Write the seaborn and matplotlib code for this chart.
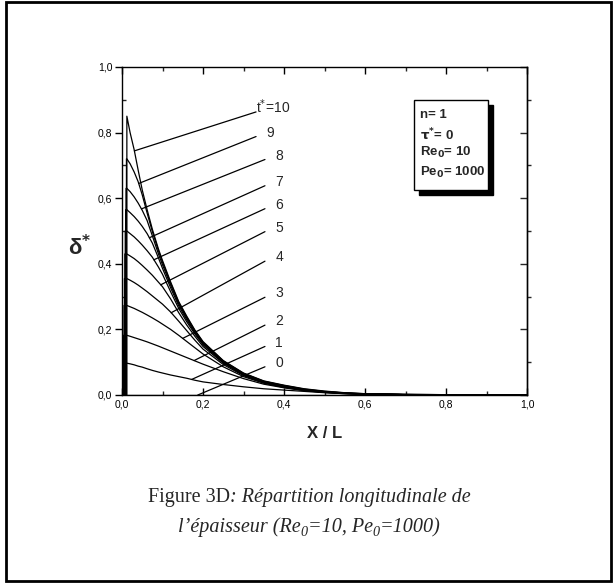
import numpy as np
import matplotlib
matplotlib.use("Agg")
import matplotlib.pyplot as plt
import seaborn as sns
from matplotlib.ticker import MultipleLocator, FuncFormatter
from matplotlib.patches import Rectangle

# ---------------- data ----------------
times = [1, 2, 3, 4, 5, 6, 7, 8, 9, 10]
x_grid = [0.012, 0.02, 0.03, 0.04, 0.05, 0.062, 0.075, 0.09, 0.10, 0.12, 0.14, 0.16,
          0.18, 0.20, 0.25, 0.30, 0.35, 0.40, 0.45, 0.50, 0.55, 0.60, 0.70, 0.80, 1.00]
delta_t1 = [0.097, 0.095, 0.092, 0.088, 0.085, 0.080, 0.075, 0.070, 0.067, 0.061, 0.056, 0.051,
            0.045, 0.040, 0.032, 0.025, 0.019, 0.015, 0.011, 0.007, 0.004, 0.002, 0.001, 0.000, 0.000]
delta_t2 = [0.182, 0.179, 0.175, 0.171, 0.167, 0.162, 0.156, 0.149, 0.144, 0.134, 0.124, 0.114,
            0.104, 0.094, 0.071, 0.050, 0.033, 0.022, 0.013, 0.008, 0.004, 0.002, 0.001, 0.000, 0.000]
delta_t3 = [0.273, 0.269, 0.264, 0.258, 0.252, 0.244, 0.235, 0.224, 0.216, 0.200, 0.182, 0.163,
            0.144, 0.125, 0.086, 0.056, 0.036, 0.023, 0.014, 0.008, 0.005, 0.003, 0.001, 0.000, 0.000]
delta_t4 = [0.355, 0.350, 0.343, 0.335, 0.326, 0.315, 0.302, 0.287, 0.277, 0.253, 0.225, 0.196,
            0.167, 0.140, 0.093, 0.059, 0.037, 0.024, 0.015, 0.009, 0.005, 0.003, 0.001, 0.000, 0.000]
delta_t5 = [0.430, 0.424, 0.416, 0.406, 0.395, 0.381, 0.365, 0.344, 0.330, 0.293, 0.251, 0.213,
            0.179, 0.148, 0.097, 0.061, 0.038, 0.025, 0.015, 0.009, 0.005, 0.003, 0.001, 0.000, 0.000]
delta_t6 = [0.500, 0.492, 0.482, 0.470, 0.457, 0.440, 0.420, 0.390, 0.368, 0.315, 0.264, 0.223,
            0.186, 0.153, 0.099, 0.062, 0.039, 0.026, 0.016, 0.009, 0.005, 0.003, 0.001, 0.000, 0.000]
delta_t7 = [0.565, 0.556, 0.544, 0.530, 0.514, 0.492, 0.463, 0.418, 0.386, 0.327, 0.272, 0.229,
            0.190, 0.156, 0.100, 0.063, 0.040, 0.027, 0.016, 0.010, 0.006, 0.003, 0.001, 0.000, 0.000]
delta_t8 = [0.630, 0.620, 0.604, 0.585, 0.563, 0.532, 0.485, 0.430, 0.397, 0.335, 0.278, 0.234,
            0.194, 0.159, 0.102, 0.065, 0.041, 0.028, 0.017, 0.010, 0.006, 0.0035, 0.0015, 0.000, 0.000]
delta_t9 = [0.720, 0.705, 0.680, 0.650, 0.610, 0.555, 0.498, 0.440, 0.405, 0.341, 0.282, 0.237,
            0.196, 0.161, 0.104, 0.066, 0.042, 0.029, 0.018, 0.011, 0.0065, 0.004, 0.002, 0.001, 0.000]
delta_t10 = [0.850, 0.800, 0.748, 0.685, 0.625, 0.565, 0.505, 0.445, 0.410, 0.345, 0.285, 0.240,
             0.198, 0.163, 0.105, 0.067, 0.043, 0.030, 0.019, 0.012, 0.007, 0.004, 0.002, 0.001, 0.000]
curves = [delta_t1, delta_t2, delta_t3, delta_t4, delta_t5,
          delta_t6, delta_t7, delta_t8, delta_t9, delta_t10]

# curve labels (t* = 0 .. 10)
label_names = ["0", "1", "2", "3", "4", "5", "6", "7", "8", "9", "10"]
label_y = [0.098, 0.16, 0.225, 0.31, 0.42, 0.51, 0.58, 0.65, 0.73, 0.80, 0.875]

x_ticks = [0.0, 0.2, 0.4, 0.6, 0.8, 1.0]
y_ticks = [0.0, 0.2, 0.4, 0.6, 0.8, 1.0]

# ---------------- figure ----------------
sns.set_theme(style="white")
plt.rcParams["font.family"] = ["Liberation Sans", "DejaVu Sans"]

W, H = 613, 583
fig = plt.figure(figsize=(W / 100, H / 100), dpi=100)
fig.patch.set_facecolor("white")

# outer frame of the scanned page
fig.patches.append(Rectangle((6 / W, 2 / H), 605 / W, 579 / H, transform=fig.transFigure,
                             fill=False, edgecolor="black", linewidth=2.0))

AX_W, AX_H = 405, 328
ax = fig.add_axes([122 / W, 1 - 395 / H, AX_W / W, AX_H / H])
ax.set_facecolor("white")

starts = np.linspace(0.003, 0.012, len(curves))
for i, (t, vals) in enumerate(zip(times, curves)):
    xs = [starts[i], starts[i]] + x_grid
    ys = [0.0, vals[0]] + vals
    sns.lineplot(x=xs, y=ys, ax=ax, color="black", linewidth=0.9, sort=False,
                 estimator=None)

# t*=0 curve lies on the axis
sns.lineplot(x=[0.0, 1.0], y=[0.0, 0.0], ax=ax, color="black", linewidth=0.9)

# labels and leader lines (leader slope in screen pixels, drawn until it meets its curve)
leader_slope_px = [0.42, 0.45, 0.5, 0.5, 0.55, 0.51, 0.46, 0.45, 0.40, 0.40, 0.32]
lab_x = 0.388
fine_x = np.linspace(0.012, 0.36, 1500)
for k, name in enumerate(label_names):
    lx = lab_x - 0.022 if name in ("9", "10") else lab_x
    x0, y0 = lx - 0.035, label_y[k] - 0.012
    s = leader_slope_px[k] * AX_W / AX_H
    line = y0 - s * (x0 - fine_x)
    cv = np.zeros_like(fine_x) if k == 0 else np.interp(fine_x, x_grid, curves[k - 1])
    ok = np.where((cv >= line) & (fine_x <= x0))[0]
    j = ok[-1] if len(ok) else 0
    ax.plot([fine_x[j], x0], [line[j], y0], color="black", linewidth=0.9)
    if name == "10":
        ax.text(x0, label_y[k] + 0.005, r"t$^{*}$=10", fontsize=10, ha="left", va="center")
    else:
        ax.text(lx, label_y[k], name, fontsize=10, ha="center", va="center")

ax.set_xlim(0, 1)
ax.set_ylim(0, 1)
ax.xaxis.set_major_locator(MultipleLocator(0.2))
ax.xaxis.set_minor_locator(MultipleLocator(0.1))
ax.yaxis.set_major_locator(MultipleLocator(0.2))
ax.yaxis.set_minor_locator(MultipleLocator(0.1))
fmt = FuncFormatter(lambda v, p: f"{v:.1f}".replace(".", ","))
ax.xaxis.set_major_formatter(fmt)
ax.yaxis.set_major_formatter(fmt)
for s_ in ax.spines.values():
    s_.set_color("black")
    s_.set_linewidth(1.0)
ax.tick_params(axis="y", which="major", direction="out", length=5, width=1, left=True,
               right=False, labelsize=7.5, colors="black", pad=2)
ax.tick_params(axis="y", which="minor", direction="in", length=3, width=1, left=True, right=False)
ax.tick_params(axis="x", which="major", direction="in", length=5, width=1, bottom=True,
               top=True, labelsize=7.5, colors="black", pad=3)
ax.tick_params(axis="x", which="minor", direction="in", length=3, width=1, bottom=True, top=True)

sec = ax.secondary_yaxis("right")
sec.yaxis.set_major_locator(MultipleLocator(0.2))
sec.yaxis.set_minor_locator(MultipleLocator(0.1))
sec.tick_params(axis="y", which="major", direction="in", length=5, width=1, labelright=False)
sec.tick_params(axis="y", which="minor", direction="out", length=3, width=1)
sec.spines["right"].set_linewidth(1.0)

ax.set_xlabel("X / L", fontsize=12, fontweight="bold", labelpad=12)
ax.text(-0.105, 0.45, r"δ$^{\mathbf{*}}$", transform=ax.transAxes, fontsize=16,
        fontweight="bold", ha="center", va="center")

# parameter box with shadow
bx0, by0, bx1, by1 = 0.722, 0.625, 0.904, 0.90
ax.add_patch(Rectangle((bx0 + 0.011, by0 - 0.016), bx1 - bx0, by1 - by0, facecolor="black",
                       edgecolor="black", zorder=4))
ax.add_patch(Rectangle((bx0, by0), bx1 - bx0, by1 - by0, facecolor="white", edgecolor="black",
                       linewidth=1.0, zorder=5))
box_lines = [r"n= 1", r"$\mathbf{\tau^{*}}$= 0", r"Re$_{\mathbf{0}}$= 10", r"Pe$_{\mathbf{0}}$= 1000"]
box_rows = [0.854, 0.793, 0.738, 0.677]
for s_txt, yy in zip(box_lines, box_rows):
    ax.text(bx0 + 0.014, yy, s_txt, fontsize=9.5, fontweight="bold",
            ha="left", va="center", zorder=6)

# caption with mixed styles
fig.canvas.draw()
renderer = fig.canvas.get_renderer()

def draw_pieces(pieces, y_px, size):
    widths = []
    objs = []
    for txt, style, rel, dy in pieces:
        o = fig.text(0, 0, txt, fontsize=size * rel, style=style,
                     family=["Liberation Serif", "DejaVu Serif"])
        widths.append(o.get_window_extent(renderer).width)
        objs.append(o)
    total = sum(widths)
    x = (W - total) / 2 + 3
    for o, w, (txt, style, rel, dy) in zip(objs, widths, pieces):
        o.set_position((x / W, 1 - (y_px + dy) / H))
        o.set_va("baseline")
        x += w

draw_pieces([("Figure 3D", "normal", 1, 0),
             (": Répartition longitudinale de", "italic", 1, 0)], 502, 14.5)
draw_pieces([("l’épaisseur (Re", "italic", 1, 0), ("0", "italic", 0.7, 4),
             ("=10, Pe", "italic", 1, 0), ("0", "italic", 0.7, 4),
             ("=1000)", "italic", 1, 0)], 532, 14.5)

fig.savefig("out.png", dpi=100, facecolor="white")
